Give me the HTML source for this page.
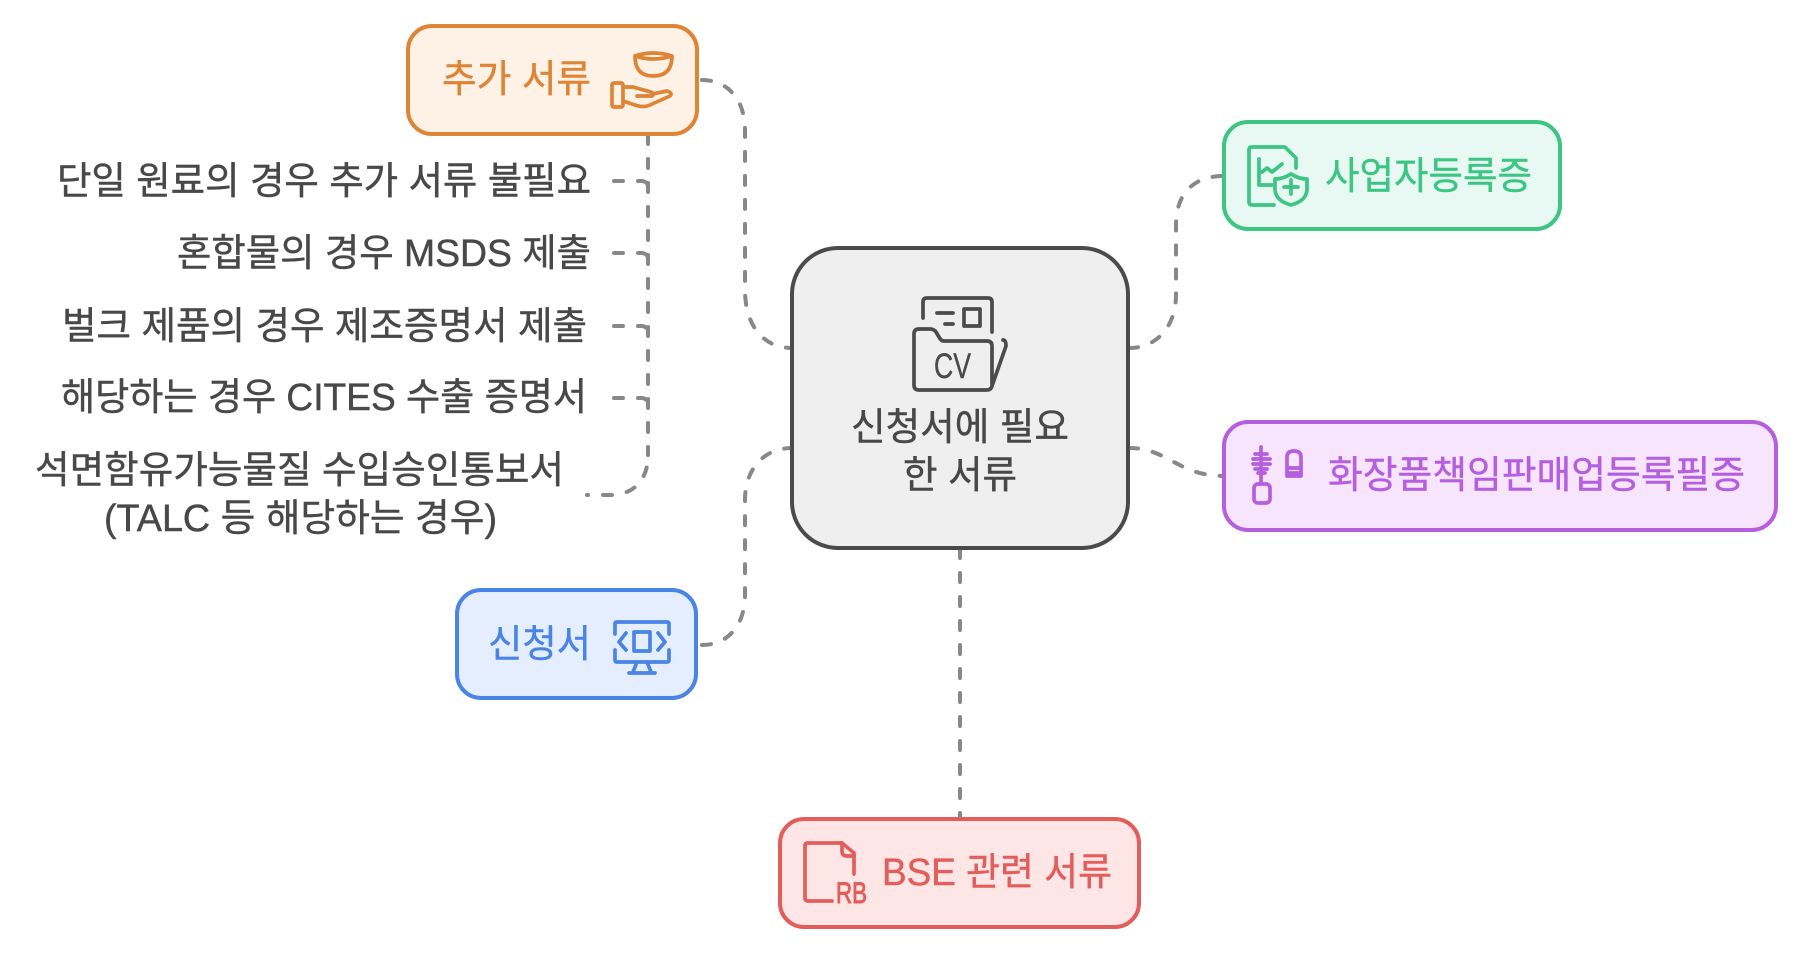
<!DOCTYPE html>
<html lang="ko"><head><meta charset="utf-8"><title>신청서에 필요한 서류</title>
<style>
html,body{margin:0;padding:0;background:#fff}
svg{display:block}
text{font-family:"Liberation Sans","Noto Sans CJK KR",sans-serif;font-size:38px;stroke-width:.45px}
.c{fill:none;stroke:#888;stroke-width:4;stroke-dasharray:9 15;stroke-linecap:round}
.i{fill:none;stroke-width:3.7;stroke-linecap:round;stroke-linejoin:round}
</style></head><body>
<svg width="1802" height="953" viewBox="0 0 1802 953" xmlns="http://www.w3.org/2000/svg">
<!-- connectors -->
<path class="c" d="M702 80 C728 80 745 100 745 130 V290 C745 325 763 348 792 348"/>
<path class="c" d="M702 645 C728 645 745 625 745 595 V500 C745 470 763 448 792 448"/>
<path class="c" d="M1129 348 C1158 348 1176 325 1176 295 V225 C1176 195 1192 176 1224 176"/>
<path class="c" d="M1129 448 C1168 448 1178 476 1224 476"/>
<path class="c" d="M960 549 V819"/>
<path class="c" d="M648 135 V455"/>
<path class="c" style="stroke-dashoffset:8" d="M587 495 H610 C634 495 648 480 648 455"/>
<path class="c" d="M614 181 H641 Q648 181 648 188"/>
<path class="c" d="M614 253 H641 Q648 253 648 260"/>
<path class="c" d="M614 326 H641 Q648 326 648 333"/>
<path class="c" d="M614 398 H641 Q648 398 648 405"/>
<!-- nodes -->
<rect x="792" y="248" width="336" height="300" rx="46" fill="#efefef" stroke="#4b4b4b" stroke-width="4"/>
<rect x="408" y="26" width="289" height="108" rx="24" fill="#fef1e5" stroke="#df8335" stroke-width="4"/>
<rect x="1224" y="122" width="336" height="107" rx="24" fill="#e7f9f2" stroke="#3cc583" stroke-width="4"/>
<rect x="1224" y="422" width="552" height="108" rx="24" fill="#f6e5fd" stroke="#b55ee0" stroke-width="4"/>
<rect x="457" y="590" width="239" height="108" rx="24" fill="#e4eefe" stroke="#4a84e6" stroke-width="4"/>
<rect x="780" y="819" width="359" height="108" rx="24" fill="#fee6e6" stroke="#e35d5b" stroke-width="4"/>
<!-- central icon -->
<g class="i" stroke="#4b4b4b">
<path d="M923 318 V302 Q923 298 927 298 H988 Q992 298 992 302 V332"/>
<path d="M937 313 H953 M945 324 H953"/>
<rect x="964" y="309" width="16" height="17"/>
<path d="M992 386 V346 Q992 341 987 341 H944 Q941 341 939 337 L936 332 Q934 329 930 329 H919 Q914 329 914 334 V385 Q914 390 919 390 H987 Q991 390 992 386 L1006 346 Q1006 340 1003 340"/>
</g>
<text x="934" y="378" style="font-size:35px" fill="#4b4b4b" stroke="#4b4b4b" textLength="37" lengthAdjust="spacingAndGlyphs">CV</text>
<!-- orange icon -->
<g class="i" stroke="#df8335">
<path d="M635 56 Q653 50 672 56 Q672 76 653 76 Q635 76 635 56 Z M635 56 Q653 62 672 56"/>
<rect x="612" y="83" width="11" height="24" rx="2"/>
<path d="M623 87 H633 L651 92 Q655 94 652 96 H637 M652 94 L667 91 Q673 93 670 96 L650 105 Q643 108 635 105 L623 101"/>
</g>
<!-- green icon -->
<g class="i" stroke="#3cc583">
<path d="M1274 205 H1252 Q1249 205 1249 202 V150 Q1249 147 1252 147 H1285 L1296 158 V168"/>
<path d="M1259 159 V185 H1272 M1262 172 L1267 168 L1272 172 L1282 164"/>
<path d="M1291 174 Q1299 179 1307 179 V190 Q1306 201 1291 205 Q1276 201 1275 190 V179 Q1283 179 1291 174 Z"/>
<path d="M1291 180 V194 M1284 187 H1298"/>
</g>
<!-- purple icon -->
<g class="i" stroke="#b55ee0">
<path d="M1261 447 V482 M1255 454 H1267 M1253 459 H1270 M1253 464 H1270 M1255 469 H1267 M1258 473 H1265"/>
<rect x="1254" y="484" width="16" height="19" rx="4"/>
<path d="M1287 476 V457 Q1287 451 1294 451 Q1301 451 1301 457 V476 Z M1287 468 H1301 M1287 473 H1301"/>
</g>
<!-- blue icon -->
<g class="i" stroke="#4a84e6">
<path d="M615 634 V624 Q615 622 617 622 H667 Q669 622 669 624 V634 M615 650 V660 Q615 662 617 662 H667 Q669 662 669 660 V650"/>
<rect x="634" y="632" width="16" height="19"/>
<path d="M626 633 L619 642 L626 650 M658 633 L665 642 L658 650"/>
<path d="M637 662 L633 672 M647 662 L651 672 M629 673 H655"/>
</g>
<!-- red icon -->
<g class="i" stroke="#e35d5b">
<path d="M832 901 H808 Q805 901 805 898 V846 Q805 843 808 843 H842 L854 853 V874"/>
<path d="M842 843 V851 Q842 856 847 856 H854"/>
</g>
<text x="836" y="903" style="font-size:30px;stroke-width:1px" fill="#e35d5b" stroke="#e35d5b" textLength="31" lengthAdjust="spacingAndGlyphs">RB</text>
<!-- labels -->
<g fill="#484848" stroke="#484848">
<text x="851" y="440" textLength="218" lengthAdjust="spacingAndGlyphs">신청서에 필요</text>
<text x="903" y="488" textLength="114" lengthAdjust="spacingAndGlyphs">한 서류</text>
<text x="57" y="194" textLength="534" lengthAdjust="spacingAndGlyphs">단일 원료의 경우 추가 서류 불필요</text>
<text x="177" y="266" textLength="414" lengthAdjust="spacingAndGlyphs">혼합물의 경우 MSDS 제출</text>
<text x="62" y="339" textLength="525" lengthAdjust="spacingAndGlyphs">벌크 제품의 경우 제조증명서 제출</text>
<text x="61" y="410" textLength="526" lengthAdjust="spacingAndGlyphs">해당하는 경우 CITES 수출 증명서</text>
<text x="35" y="483" textLength="529" lengthAdjust="spacingAndGlyphs">석면함유가능물질 수입승인통보서</text>
<text x="104" y="531" textLength="393" lengthAdjust="spacingAndGlyphs">(TALC 등 해당하는 경우)</text>
</g>
<text x="442" y="92" fill="#df8335" stroke="#df8335" textLength="149" lengthAdjust="spacingAndGlyphs">추가 서류</text>
<text x="1325" y="189" fill="#3cc583" stroke="#3cc583" textLength="207" lengthAdjust="spacingAndGlyphs">사업자등록증</text>
<text x="1328" y="488" fill="#b55ee0" stroke="#b55ee0" textLength="417" lengthAdjust="spacingAndGlyphs">화장품책임판매업등록필증</text>
<text x="488" y="657" fill="#4a84e6" stroke="#4a84e6" textLength="103" lengthAdjust="spacingAndGlyphs">신청서</text>
<text x="882" y="885" fill="#e35d5b" stroke="#e35d5b" textLength="230" lengthAdjust="spacingAndGlyphs">BSE 관련 서류</text>
</svg>
</body></html>
